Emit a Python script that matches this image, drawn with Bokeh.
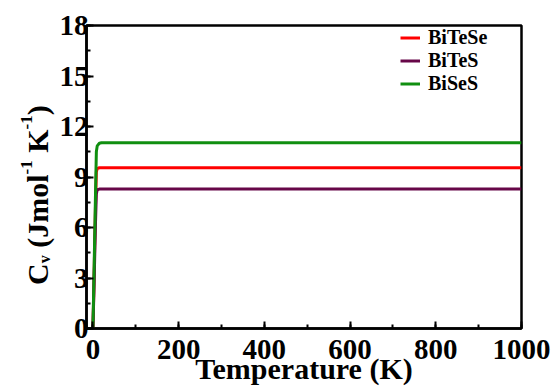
from bokeh.plotting import figure
from bokeh.models import Range1d, SingleIntervalTicker, Legend, LegendItem, Div
from bokeh.layouts import row
from bokeh.embed import file_html
from bokeh.resources import INLINE

# Data
temperature = [0, 2, 4, 6, 8, 10, 15, 20, 50, 100, 200, 300, 400, 500, 600, 700, 800, 900, 1000]
cv_bitese = [0, 2.2, 4.8, 7.3, 9.3, 9.5, 9.55, 9.55, 9.55, 9.55, 9.55, 9.55, 9.55, 9.55, 9.55, 9.55, 9.55, 9.55, 9.55]
cv_bites = [0, 1.9, 4.1, 6.3, 8.0, 8.24, 8.28, 8.28, 8.28, 8.28, 8.28, 8.28, 8.28, 8.28, 8.28, 8.28, 8.28, 8.28, 8.28]
cv_bises = [0, 2.6, 5.3, 8.0, 10.5, 10.85, 11.0, 11.03, 11.03, 11.03, 11.03, 11.03, 11.03, 11.03, 11.03, 11.03, 11.03, 11.03, 11.03]
series_names = ["BiTeSe", "BiTeS", "BiSeS"]
series_colors = ["#ff0000", "#670748", "#108f10"]
x_tick_interval = 200
y_tick_interval = 3

FONT = "Liberation Serif"
X0, X1, Y0, Y1 = -15, 1000, 0, 18
DIV_W = 50
FL, FR, FT, FB = 86, 521, 25, 329  # frame edges in page pixels

p = figure(width=552 - DIV_W, height=387, output_backend="svg", toolbar_location=None,
           x_range=Range1d(X0, X1), y_range=Range1d(Y0, Y1),
           min_border_left=FL - DIV_W, min_border_right=552 - FR, min_border_top=FT,
           min_border_bottom=387 - FB)
p.background_fill_color = "white"
p.border_fill_color = None
p.grid.visible = False
p.outline_line_color = "black"
p.outline_line_width = 2.5

p.xaxis.ticker = SingleIntervalTicker(interval=x_tick_interval, num_minor_ticks=2)
p.yaxis.ticker = SingleIntervalTicker(interval=y_tick_interval, num_minor_ticks=2)
for ax in (p.xaxis, p.yaxis):
    ax.axis_line_width = 2.5
    ax.axis_line_color = "black"
    ax.major_tick_in = 7
    ax.major_tick_out = 0
    ax.minor_tick_in = 4
    ax.minor_tick_out = 0
    ax.major_tick_line_width = 2
    ax.minor_tick_line_width = 2
    ax.major_label_text_font = FONT
    ax.major_label_text_font_style = "bold"
    ax.major_label_text_font_size = "29px"
    ax.major_label_text_color = "black"
p.xaxis.major_label_standoff = 11
p.yaxis.major_label_standoff = -2
p.xaxis.axis_label = "Temperature (K)"
p.xaxis.axis_label_text_font = FONT
p.xaxis.axis_label_text_font_style = "bold"
p.xaxis.axis_label_text_font_size = "30px"
p.xaxis.axis_label_text_color = "black"
p.xaxis.axis_label_standoff = -10

items = []
for name, ys, col in zip(series_names, [cv_bitese, cv_bites, cv_bises], series_colors):
    r = p.line(temperature, ys, line_color=col, line_width=3)
    items.append(LegendItem(label=name, renderers=[r]))

legend = Legend(items=items, location=(314, 233), padding=0, margin=0, spacing=-4,
                glyph_width=20, glyph_height=19, label_height=19, label_standoff=8,
                border_line_color=None, background_fill_alpha=0,
                label_text_font=FONT, label_text_font_style="bold", label_text_font_size="20px",
                label_text_color="black")
p.add_layout(legend)

# y-axis title with subscript / superscripts, rotated, in a Div left of the plot
sub = '<span style="font-size:16px;position:relative;top:2px;">{}</span>'
sup = '<span style="font-size:17px;position:relative;top:-16px;">{}</span>'
ylabel_html = ("C" + sub.format("v") + " (Jmol" + sup.format("-1") + " K" + sup.format("-1") + ")")
ydiv = Div(width=DIV_W, height=387, text=(
    '<div style="display:inline-block;white-space:nowrap;font-family:\'Liberation Serif\';'
    'font-weight:bold;font-size:30px;line-height:30px;color:black;transform-origin:0 0;'
    'transform:translate(23px,285px) rotate(-90deg);">' + ylabel_html + '</div>'),
    styles={"margin": "0", "padding": "0", "overflow": "visible"})

layout = row(ydiv, p, spacing=0)
open("out.html", "w").write(file_html(layout, INLINE))
